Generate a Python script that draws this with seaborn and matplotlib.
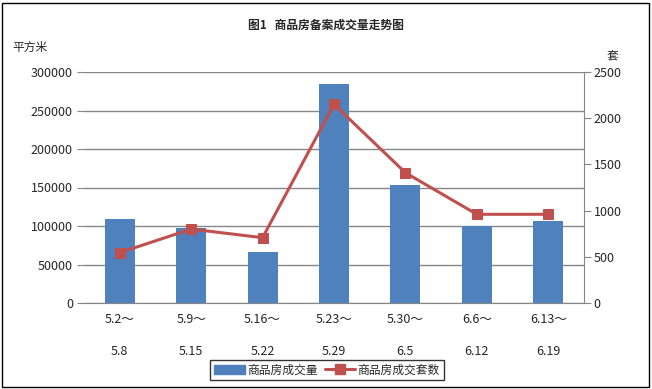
import numpy as np
import pandas as pd
import seaborn as sns
from matplotlib import pyplot as plt
from matplotlib.patches import Rectangle
from matplotlib.lines import Line2D
from matplotlib.patches import Patch

# 数据：每周商品房成交面积（平方米）与成交套数
week_start = ["5.2～", "5.9～", "5.16～", "5.23～", "5.30～", "6.6～", "6.13～"]
week_end = ["5.8", "5.15", "5.22", "5.29", "6.5", "6.12", "6.19"]
area = [109000, 98000, 66000, 284000, 153000, 100000, 106000]
units = [545, 800, 707, 2150, 1410, 960, 960]

labels = [f"{a}\n\n{b}" for a, b in zip(week_start, week_end)]
df = pd.DataFrame({"week": labels, "area": area, "units": units})

sns.set_style("white")
plt.rcParams['font.family'] = ['Noto Sans CJK SC', 'DejaVu Sans']

bar_color = "#4F81BD"
line_color = "#C0504D"
grid_color = "#868686"

fig = plt.figure(figsize=(6.52, 3.89), dpi=100)
ax = fig.add_axes([84 / 652, 1 - 303 / 389, 500 / 652, 231 / 389])

sns.barplot(data=df, x="week", y="area", color=bar_color, width=0.42,
            saturation=1, edgecolor=bar_color, linewidth=0, ax=ax)
ax.set_ylim(0, 300000)
ax.set_yticks(np.arange(0, 300001, 50000))
ax.set_xlim(-0.5, len(labels) - 0.5)
ax.yaxis.grid(True, color=grid_color, linewidth=1)
ax.set_axisbelow(True)
ax.set_xlabel("")
ax.set_ylabel("")
ax.tick_params(axis="y", labelsize=9, length=5, color=grid_color, pad=3, left=True)
ax.tick_params(axis="x", labelsize=9, length=0, pad=7)
for lbl in ax.get_xticklabels():
    lbl.set_linespacing(1.3)
for side in ["left", "top"]:
    ax.spines[side].set_visible(False)
ax.spines["bottom"].set_color(grid_color)
ax.spines["right"].set_visible(False)

ax2 = ax.twinx()
sns.lineplot(x=np.arange(len(units)), y=units, color=line_color, linewidth=2.2,
             marker="s", markersize=7.5, markeredgecolor=line_color, ax=ax2)
ax2.set_ylim(0, 2500)
ax2.set_yticks(np.arange(0, 2501, 500))
ax2.tick_params(axis="y", labelsize=9, length=5, color=grid_color, pad=2, right=True)
for side in ["left", "top", "bottom"]:
    ax2.spines[side].set_visible(False)
ax2.spines["right"].set_color(grid_color)

fig.text(0.5, 1 - 25 / 389, "图1   商品房备案成交量走势图", ha="center", va="center",
         fontsize=8.5, fontweight="bold")
fig.text(12 / 652, 1 - 47 / 389, "平方米", ha="left", va="center", fontsize=8.5)
fig.text(612 / 652, 1 - 57 / 389, "套", ha="center", va="center", fontsize=8.5)

handles = [Patch(facecolor=bar_color, edgecolor=bar_color),
           Line2D([0], [0], color=line_color, linewidth=2.2, marker="s",
                  markersize=7, markeredgecolor=line_color)]
leg = fig.legend(handles, ["商品房成交量", "商品房成交套数"], loc="center",
                 bbox_to_anchor=(327 / 652, 1 - 370 / 389), ncol=2, fontsize=8.5,
                 frameon=True, fancybox=False, edgecolor="black",
                 handlelength=2.6, handletextpad=0.2, columnspacing=0.6,
                 borderpad=0.3)
leg.get_frame().set_linewidth(1)

fig.patches.append(Rectangle((2 / 652, 2 / 389), 647 / 652, 384 / 389,
                             transform=fig.transFigure, fill=False,
                             edgecolor="black", linewidth=1))

fig.savefig("out.png", dpi=100)
